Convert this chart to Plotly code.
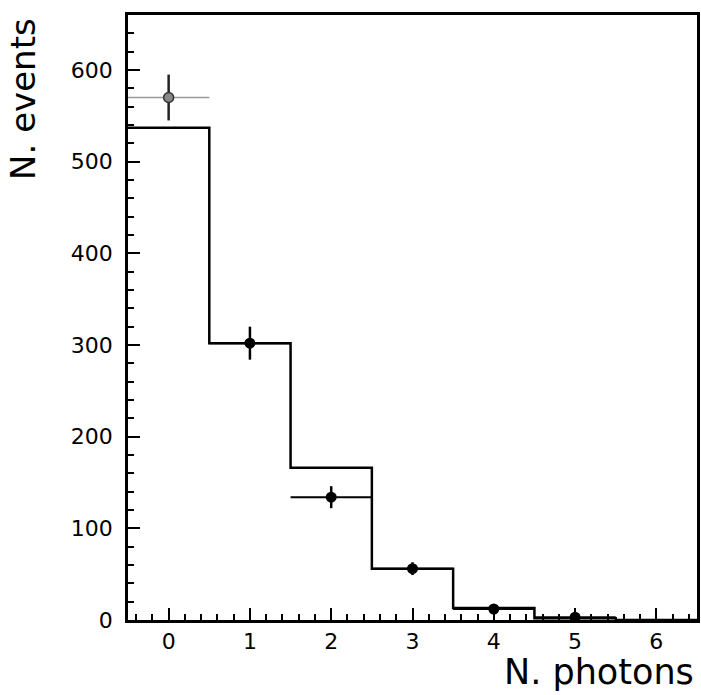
import plotly.graph_objects as go

# histogram (expected) counts per bin
bins = [0, 1, 2, 3, 4, 5, 6]
hist_counts = [537, 302, 166, 56, 13, 2, 0]
# data points
data_x = [0, 1, 2, 3, 4, 5]
data_y = [570, 302, 134, 56, 12, 3]
data_err = [25, 18, 12, 7, 3, 2]
bin_half_width = 0.5

edges = [b - bin_half_width for b in bins] + [bins[-1] + bin_half_width]
step_y = hist_counts + [hist_counts[-1]]

fig = go.Figure()
fig.add_trace(go.Scatter(
    x=edges, y=step_y, mode="lines", line_shape="hv",
    line=dict(color="black", width=2.5), showlegend=False, hoverinfo="skip"))

# first point (appears grey in scan)
fig.add_trace(go.Scatter(
    x=data_x[:1], y=data_y[:1], mode="markers",
    marker=dict(color="#888888", size=10, line=dict(color="#333333", width=1.5)),
    error_y=dict(type="data", array=data_err[:1], color="#222222", thickness=2.5, width=0),
    error_x=dict(type="constant", value=bin_half_width, color="#999999", thickness=1.5, width=0),
    showlegend=False))
fig.add_trace(go.Scatter(
    x=data_x[1:], y=data_y[1:], mode="markers",
    marker=dict(color="black", size=11),
    error_y=dict(type="data", array=data_err[1:], color="black", thickness=2.5, width=0),
    error_x=dict(type="constant", value=bin_half_width, color="black", thickness=2, width=0),
    showlegend=False))

font = "DejaVu Sans, Verdana, sans-serif"
fig.update_layout(
    width=701, height=695,
    margin=dict(l=128, r=1, t=15, b=75),
    plot_bgcolor="white", paper_bgcolor="white",
    font=dict(family=font, color="black"),
    xaxis=dict(
        range=[-0.5, 6.5], tickmode="array", tickvals=bins, ticktext=[str(b) for b in bins],
        showline=True, linecolor="black", linewidth=2.5, mirror=True,
        ticks="inside", ticklen=12, tickwidth=2, tickcolor="black",
        minor=dict(dtick=0.2, tick0=0, ticks="inside", ticklen=6, tickwidth=1.5, tickcolor="black"),
        showgrid=False, zeroline=False, tickfont=dict(size=22), ticklabelstandoff=0),
    yaxis=dict(
        range=[0, 660], tickmode="linear", tick0=0, dtick=100,
        showline=True, linecolor="black", linewidth=2.5, mirror=True,
        ticks="inside", ticklen=12, tickwidth=2, tickcolor="black",
        minor=dict(dtick=20, tick0=0, ticks="inside", ticklen=6, tickwidth=1.5, tickcolor="black"),
        showgrid=False, zeroline=False, tickfont=dict(size=22), ticklabelstandoff=8),
    annotations=[
        dict(text="N. photons", xref="paper", yref="paper", x=0.999, y=-0.05,
             xanchor="right", yanchor="top", showarrow=False, font=dict(size=35)),
        dict(text="N. events", xref="paper", yref="paper", x=-0.222, y=0.998,
             xanchor="left", yanchor="top", textangle=-90, showarrow=False, font=dict(size=34)),
    ],
)
fig.write_html("out.html")
